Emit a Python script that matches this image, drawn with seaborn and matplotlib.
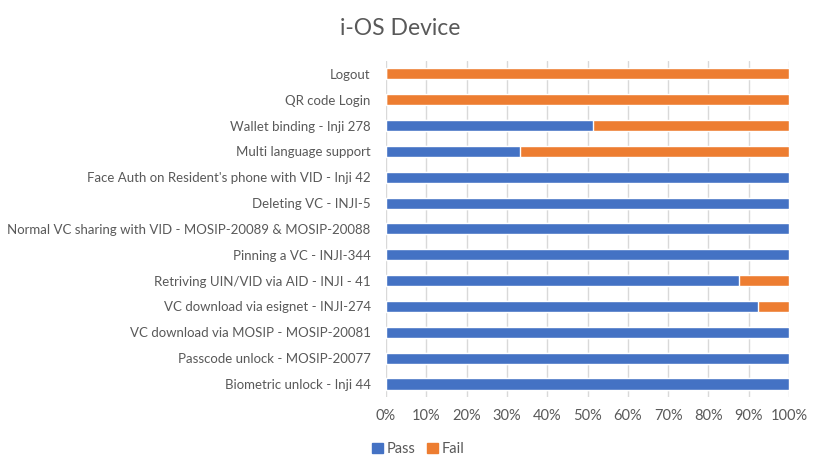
import pandas as pd
import seaborn as sns
import matplotlib.pyplot as plt
from matplotlib.patches import Patch
from matplotlib.ticker import PercentFormatter

# Datos (porcentaje de Pass, el resto es Fail)
casos = [
    'Logout',
    'QR code Login',
    'Wallet binding - Inji 278',
    'Multi language support',
    "Face Auth on Resident's phone with VID - Inji 42",
    'Deleting VC - INJI-5',
    'Normal VC sharing with VID - MOSIP-20089 & MOSIP-20088',
    'Pinning a VC - INJI-344',
    'Retriving UIN/VID via AID - INJI - 41',
    'VC download via esignet - INJI-274',
    'VC download via MOSIP - MOSIP-20081',
    'Passcode unlock - MOSIP-20077',
    'Biometric unlock - Inji 44',
]
pass_pct = [0, 0, 51.3, 33.3, 100, 100, 100, 100, 87.5, 92.3, 100, 100, 100]
fail_pct = [100 - p for p in pass_pct]

db = pd.DataFrame({'Caso': casos, 'Pass': pass_pct, 'Fail': fail_pct})
db['Total'] = db['Pass'] + db['Fail']

sns.set_style('white')
plt.rcParams['font.family'] = ['Lato', 'DejaVu Sans']

azul = '#4472C4'
naranja = '#ED7D31'
gris = '#595959'

fig = plt.figure(figsize=(8.22, 4.72), dpi=100)
ax = fig.add_axes([0.4696, 0.159, 0.4903, 0.712])

# Apilado: primero el total (Fail) y encima el Pass
sns.barplot(data=db, x='Total', y='Caso', color=naranja, width=0.43, saturation=1, ax=ax, orient='h')
sns.barplot(data=db, x='Pass', y='Caso', color=azul, width=0.43, saturation=1, ax=ax, orient='h')

ax.set_xlim(0, 100)
ax.set_ylim(12.5, -0.5)
ax.set_xticks(range(0, 101, 10))
ax.xaxis.set_major_formatter(PercentFormatter(decimals=0))
ax.set_xlabel('')
ax.set_ylabel('')
ax.grid(axis='x', color='#d9d9d9', linewidth=1)
ax.set_axisbelow(True)
for s in ax.spines.values():
    s.set_visible(False)
ax.tick_params(axis='both', length=0, labelcolor=gris)
ax.tick_params(axis='x', pad=9, labelsize=10.5)
ax.tick_params(axis='y', pad=11, labelsize=9.5)

fig.text(0.487, 0.94, 'i-OS Device', ha='center', va='center', fontsize=16.5, color=gris)

handles = [Patch(color=azul, label='Pass'), Patch(color=naranja, label='Fail')]
fig.legend(handles=handles, loc='center left', bbox_to_anchor=(0.437, 0.048), ncol=2,
           frameon=False, handlelength=0.7, handleheight=0.7, handletextpad=0.3,
           columnspacing=0.8, labelcolor=gris, fontsize=10.5)

fig.savefig('out.png', dpi=100)
